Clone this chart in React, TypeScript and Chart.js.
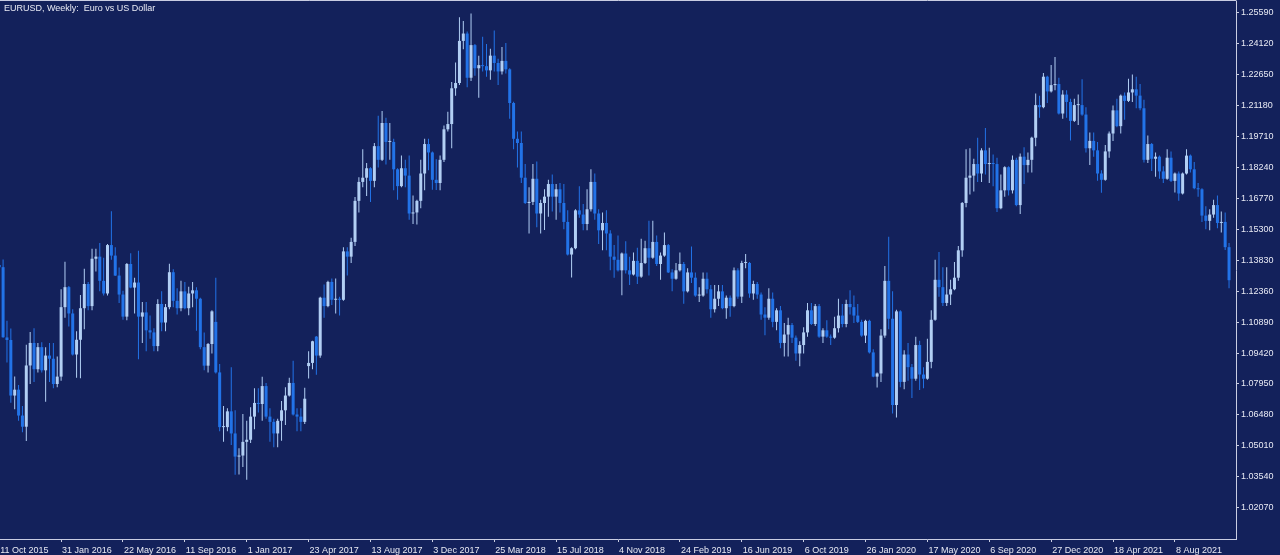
import React, { useEffect, useRef } from "react";
import { Chart, registerables } from "chart.js";

Chart.register(...registerables);

// Weekly EURUSD bars, week 0 = 11 Oct 2015 ... week 318 = 14 Nov 2021
const opens = [
  1.1360,1.1350,1.1016,1.1004,1.0740,1.0768,1.0645,1.0592,1.0883,1.0990,
  1.0865,1.0970,1.0860,1.0930,1.0915,1.0795,1.0830,1.1160,1.1255,1.1130,
  1.0935,1.1005,1.1155,1.1270,1.1165,1.1390,1.1400,1.1285,1.1225,1.1455,
  1.1405,1.1310,1.1220,1.1115,1.1365,1.1253,1.1277,1.1115,1.1135,1.1050,
  1.1040,1.0975,1.1175,1.1087,1.1160,1.1326,1.1190,1.1155,1.1235,1.1155,
  1.1225,1.1240,1.1200,1.0970,1.0882,1.0985,1.1090,1.0850,1.0590,1.0590,
  1.0665,1.0560,1.0450,1.0455,1.0520,1.0530,1.0640,1.0705,1.0700,1.0785,
  1.0640,1.0615,1.0560,1.0620,1.0670,1.0740,1.0800,1.0650,1.0640,1.0615,
  1.0880,1.0895,1.1020,1.0930,1.1205,1.1165,1.1280,1.1195,1.1200,1.1195,
  1.1425,1.1400,1.1470,1.1665,1.1755,1.1775,1.1820,1.1760,1.1925,1.1860,
  1.2035,1.1945,1.1945,1.1815,1.1735,1.1820,1.1785,1.1605,1.1610,1.1665,
  1.1795,1.1935,1.1895,1.1765,1.1750,1.1860,1.2005,1.2030,1.2200,1.2225,
  1.2425,1.2460,1.2250,1.2405,1.2295,1.2310,1.2305,1.2285,1.2355,1.2320,
  1.2280,1.2330,1.2290,1.2130,1.1960,1.1940,1.1775,1.1655,1.1660,1.1770,
  1.1605,1.1655,1.1685,1.1745,1.1685,1.1720,1.1655,1.1565,1.1410,1.1440,
  1.1620,1.1600,1.1555,1.1625,1.1755,1.1605,1.1525,1.1560,1.1510,1.1400,
  1.1385,1.1335,1.1415,1.1335,1.1315,1.1380,1.1305,1.1370,1.1440,1.1395,
  1.1470,1.1365,1.1405,1.1455,1.1325,1.1295,1.1335,1.1365,1.1235,1.1325,
  1.1300,1.1215,1.1215,1.1295,1.1245,1.1150,1.1200,1.1235,1.1155,1.1205,
  1.1165,1.1335,1.1210,1.1370,1.1370,1.1225,1.1270,1.1220,1.1125,1.1110,
  1.1200,1.1090,1.1145,1.0990,1.1030,1.1075,1.1015,1.0940,1.0980,1.1040,
  1.1145,1.1080,1.1165,1.1020,1.1050,1.1020,1.1015,1.1060,1.1120,1.1080,
  1.1175,1.1160,1.1120,1.1090,1.1025,1.1095,1.0945,1.0830,1.0845,1.1025,
  1.1285,1.1105,1.0695,1.1140,1.0805,1.0935,1.0875,1.0820,1.0980,1.0840,
  1.0820,1.0900,1.1100,1.1290,1.1255,1.1180,1.1220,1.1245,1.1300,1.1430,
  1.1655,1.1775,1.1785,1.1840,1.1795,1.1905,1.1840,1.1845,1.1840,1.1630,
  1.1715,1.1825,1.1715,1.1860,1.1645,1.1875,1.1835,1.1860,1.1965,1.2120,
  1.2110,1.2255,1.2185,1.2215,1.2220,1.2080,1.2170,1.2135,1.2045,1.2120,
  1.2120,1.2075,1.1915,1.1950,1.1905,1.1795,1.1765,1.1900,1.1985,1.2095,
  1.2020,1.2165,1.2140,1.2180,1.2195,1.2165,1.2105,1.1860,1.1935,1.1865,
  1.1875,1.1805,1.1770,1.1870,1.1760,1.1795,1.1700,1.1795,1.1880,1.1815,
  1.1725,1.1720,1.1595,1.1570,1.1600,1.1645,1.1560,1.1565,1.1445,
];

const highs = [
  1.1495,1.1387,1.1096,1.1059,1.0830,1.0790,1.0690,1.0981,1.1042,1.1060,
  1.0990,1.0993,1.0970,1.0990,1.0990,1.0925,1.1245,1.1376,1.1260,1.1150,
  1.1045,1.1218,1.1342,1.1280,1.1438,1.1438,1.1465,1.1395,1.1460,1.1616,
  1.1445,1.1349,1.1238,1.1370,1.1416,1.1300,1.1428,1.1185,1.1185,1.1120,
  1.1060,1.1198,1.1235,1.1175,1.1366,1.1340,1.1250,1.1285,1.1280,1.1257,
  1.1280,1.1255,1.1205,1.1040,1.0990,1.1145,1.1300,1.0890,1.0690,1.0680,
  1.0874,1.0670,1.0490,1.0652,1.0620,1.0685,1.0775,1.0775,1.0829,1.0800,
  1.0680,1.0630,1.0630,1.0714,1.0780,1.0825,1.0905,1.0680,1.0680,1.0777,
  1.0950,1.1000,1.1023,1.1210,1.1268,1.1285,1.1296,1.1296,1.1210,1.1445,
  1.1445,1.1490,1.1683,1.1777,1.1910,1.1845,1.1825,1.1940,1.2070,1.2092,
  1.2060,1.2035,1.1960,1.1820,1.1880,1.1860,1.1880,1.1690,1.1670,1.1860,
  1.1960,1.1960,1.1900,1.1863,1.1880,1.2023,1.2088,1.2230,1.2323,1.2537,
  1.2520,1.2470,1.2555,1.2410,1.2354,1.2445,1.2410,1.2388,1.2475,1.2340,
  1.2396,1.2415,1.2295,1.2136,1.1995,1.1995,1.1840,1.1730,1.1840,1.1852,
  1.1670,1.1720,1.1765,1.1790,1.1745,1.1750,1.1745,1.1620,1.1445,1.1625,
  1.1734,1.1650,1.1720,1.1815,1.1795,1.1625,1.1610,1.1620,1.1525,1.1455,
  1.1500,1.1420,1.1473,1.1400,1.1420,1.1442,1.1485,1.1475,1.1570,1.1570,
  1.1500,1.1420,1.1515,1.1460,1.1340,1.1370,1.1420,1.1375,1.1345,1.1448,
  1.1325,1.1255,1.1325,1.1325,1.1265,1.1265,1.1265,1.1265,1.1215,1.1215,
  1.1348,1.1345,1.1380,1.1412,1.1375,1.1285,1.1280,1.1230,1.1160,1.1250,
  1.1230,1.1155,1.1165,1.1085,1.1110,1.1085,1.1025,1.0998,1.1065,1.1180,
  1.1180,1.1175,1.1175,1.1060,1.1098,1.1030,1.1115,1.1200,1.1175,1.1195,
  1.1240,1.1215,1.1175,1.1100,1.1100,1.1100,1.0960,1.0850,1.1055,1.1355,
  1.1495,1.1235,1.1148,1.1145,1.0955,1.0990,1.0890,1.1020,1.1000,1.0875,
  1.1010,1.1145,1.1385,1.1422,1.1350,1.1350,1.1290,1.1375,1.1450,1.1660,
  1.1910,1.1915,1.1865,1.1965,1.1915,1.2011,1.1917,1.1885,1.1870,1.1790,
  1.1830,1.1830,1.1880,1.1870,1.1890,1.1920,1.1895,1.1970,1.2175,1.2165,
  1.2273,1.2260,1.2310,1.2349,1.2250,1.2190,1.2190,1.2150,1.2150,1.2170,
  1.2243,1.2110,1.1990,1.1990,1.1945,1.1810,1.1930,1.1995,1.2118,1.2150,
  1.2170,1.2180,1.2245,1.2265,1.2255,1.2220,1.2145,1.1975,1.1940,1.1895,
  1.1880,1.1830,1.1910,1.1900,1.1800,1.1805,1.1800,1.1910,1.1885,1.1850,
  1.1750,1.1725,1.1640,1.1625,1.1670,1.1690,1.1615,1.1610,1.1465,
];

const lows = [
  1.1330,1.1015,1.0897,1.0706,1.0675,1.0620,1.0566,1.0524,1.0795,1.0805,
  1.0850,1.0850,1.0710,1.0805,1.0775,1.0780,1.0810,1.1110,1.1068,1.0930,
  1.0825,1.0822,1.1055,1.1145,1.1145,1.1330,1.1235,1.1215,1.1215,1.1385,
  1.1308,1.1180,1.1100,1.1098,1.1250,1.1130,1.0912,1.0990,1.0950,1.1010,
  1.0950,1.0950,1.1045,1.1045,1.1150,1.1160,1.1125,1.1140,1.1150,1.1122,
  1.1160,1.1048,1.0960,1.0860,1.0850,1.0940,1.0845,1.0570,1.0520,1.0570,
  1.0505,1.0364,1.0365,1.0400,1.0340,1.0515,1.0580,1.0660,1.0620,1.0630,
  1.0520,1.0495,1.0495,1.0525,1.0600,1.0735,1.0645,1.0570,1.0570,1.0605,
  1.0821,1.0865,1.0839,1.0920,1.1110,1.1160,1.1170,1.1130,1.1120,1.1190,
  1.1310,1.1370,1.1450,1.1610,1.1730,1.1688,1.1660,1.1730,1.1823,1.1855,
  1.1838,1.1860,1.1715,1.1670,1.1730,1.1730,1.1575,1.1555,1.1553,1.1630,
  1.1715,1.1810,1.1718,1.1717,1.1716,1.1850,1.1995,1.1915,1.2165,1.2215,
  1.2385,1.2205,1.2235,1.2260,1.2155,1.2280,1.2255,1.2240,1.2280,1.2215,
  1.2265,1.2270,1.2055,1.1910,1.1823,1.1750,1.1650,1.1510,1.1645,1.1540,
  1.1510,1.1527,1.1590,1.1615,1.1575,1.1610,1.1530,1.1405,1.1301,1.1435,
  1.1585,1.1525,1.1525,1.1615,1.1575,1.1460,1.1430,1.1430,1.1335,1.1300,
  1.1330,1.1216,1.1320,1.1265,1.1310,1.1270,1.1300,1.1365,1.1310,1.1390,
  1.1355,1.1290,1.1400,1.1322,1.1235,1.1290,1.1330,1.1176,1.1230,1.1275,
  1.1210,1.1185,1.1210,1.1225,1.1110,1.1135,1.1165,1.1150,1.1105,1.1115,
  1.1160,1.1200,1.1180,1.1345,1.1205,1.1195,1.1200,1.1100,1.1027,1.1100,
  1.1065,1.1050,1.0965,1.0925,1.0925,1.0990,1.0905,1.0879,1.0940,1.1020,
  1.1075,1.1070,1.1015,1.0990,1.1015,1.0980,1.1010,1.1040,1.1065,1.1065,
  1.1125,1.1085,1.1085,1.1020,1.0990,1.0940,1.0827,1.0778,1.0805,1.1015,
  1.1055,1.0655,1.0636,1.0780,1.0770,1.0810,1.0728,1.0810,1.0766,1.0775,
  1.0815,1.0870,1.1095,1.1210,1.1165,1.1165,1.1170,1.1240,1.1285,1.1400,
  1.1635,1.1695,1.1710,1.1755,1.1755,1.1790,1.1750,1.1735,1.1612,1.1625,
  1.1685,1.1690,1.1700,1.1640,1.1603,1.1745,1.1800,1.1800,1.1925,1.2060,
  1.2105,1.2130,1.2180,1.2190,1.2075,1.2055,1.2060,1.1952,1.2040,1.2025,
  1.2070,1.1895,1.1835,1.1875,1.1760,1.1704,1.1760,1.1870,1.1950,1.2015,
  1.1985,1.2050,1.2135,1.2135,1.2105,1.2095,1.1847,1.1845,1.1807,1.1780,
  1.1770,1.1750,1.1765,1.1755,1.1705,1.1665,1.1695,1.1790,1.1800,1.1720,
  1.1685,1.1565,1.1530,1.1525,1.1585,1.1535,1.1515,1.1432,1.1250,
];

const closes = [
  1.1350,1.1017,1.1004,1.0740,1.0768,1.0645,1.0592,1.0883,1.0990,1.0865,
  1.0970,1.0860,1.0930,1.0915,1.0795,1.0830,1.1160,1.1255,1.1130,1.0935,
  1.1005,1.1155,1.1270,1.1165,1.1390,1.1400,1.1285,1.1225,1.1455,1.1405,
  1.1310,1.1220,1.1115,1.1365,1.1253,1.1277,1.1115,1.1135,1.1050,1.1040,
  1.0975,1.1175,1.1087,1.1160,1.1326,1.1190,1.1155,1.1235,1.1155,1.1225,
  1.1240,1.1200,1.0970,1.0882,1.0985,1.1140,1.0850,1.0590,1.0590,1.0665,
  1.0560,1.0450,1.0455,1.0520,1.0530,1.0640,1.0705,1.0700,1.0785,1.0640,
  1.0615,1.0560,1.0620,1.0670,1.0740,1.0800,1.0650,1.0640,1.0615,1.0725,
  1.0895,1.0998,1.0930,1.1205,1.1165,1.1280,1.1195,1.1200,1.1195,1.1425,
  1.1400,1.1470,1.1665,1.1755,1.1775,1.1820,1.1760,1.1925,1.1860,1.2035,
  1.1945,1.1945,1.1815,1.1735,1.1820,1.1785,1.1605,1.1610,1.1665,1.1795,
  1.1935,1.1895,1.1765,1.1750,1.1860,1.2005,1.2030,1.2200,1.2225,1.2425,
  1.2460,1.2250,1.2405,1.2295,1.2310,1.2305,1.2285,1.2355,1.2320,1.2280,
  1.2330,1.2290,1.2130,1.1960,1.1940,1.1775,1.1655,1.1660,1.1770,1.1605,
  1.1655,1.1685,1.1745,1.1685,1.1720,1.1655,1.1565,1.1410,1.1440,1.1620,
  1.1600,1.1555,1.1625,1.1755,1.1605,1.1525,1.1560,1.1510,1.1400,1.1385,
  1.1335,1.1415,1.1335,1.1315,1.1380,1.1305,1.1370,1.1440,1.1395,1.1470,
  1.1365,1.1405,1.1455,1.1325,1.1295,1.1335,1.1365,1.1235,1.1325,1.1300,
  1.1215,1.1215,1.1295,1.1245,1.1150,1.1200,1.1235,1.1155,1.1205,1.1165,
  1.1335,1.1210,1.1370,1.1370,1.1225,1.1270,1.1220,1.1125,1.1110,1.1200,
  1.1090,1.1145,1.0990,1.1030,1.1075,1.1015,1.0940,1.0980,1.1040,1.1145,
  1.1080,1.1165,1.1020,1.1050,1.1020,1.1015,1.1060,1.1120,1.1080,1.1175,
  1.1160,1.1120,1.1090,1.1025,1.1095,1.0945,1.0830,1.0845,1.1025,1.1285,
  1.1105,1.0695,1.1140,1.0805,1.0935,1.0875,1.0820,1.0980,1.0840,1.0820,
  1.0900,1.1100,1.1290,1.1255,1.1180,1.1220,1.1245,1.1300,1.1430,1.1655,
  1.1775,1.1785,1.1840,1.1795,1.1905,1.1840,1.1845,1.1840,1.1630,1.1715,
  1.1825,1.1715,1.1860,1.1645,1.1875,1.1835,1.1860,1.1965,1.2120,1.2110,
  1.2255,1.2185,1.2215,1.2220,1.2080,1.2170,1.2135,1.2045,1.2120,1.2120,
  1.2075,1.1915,1.1950,1.1905,1.1795,1.1765,1.1900,1.1985,1.2095,1.2020,
  1.2165,1.2140,1.2180,1.2195,1.2165,1.2105,1.1860,1.1935,1.1865,1.1875,
  1.1805,1.1770,1.1870,1.1760,1.1795,1.1700,1.1795,1.1880,1.1815,1.1725,
  1.1720,1.1595,1.1570,1.1600,1.1645,1.1560,1.1565,1.1445,1.1288,
];

// Time axis labels and the week index where each one sits
const xTickWeeks = [0, 16, 32, 48, 64, 80, 96, 112, 128, 144, 160, 176, 192, 208, 224, 240, 256, 272, 288, 304];
const xTickLabels = [
  "11 Oct 2015", "31 Jan 2016", "22 May 2016", "11 Sep 2016", "1 Jan 2017",
  "23 Apr 2017", "13 Aug 2017", "3 Dec 2017", "25 Mar 2018", "15 Jul 2018",
  "4 Nov 2018", "24 Feb 2019", "16 Jun 2019", "6 Oct 2019", "26 Jan 2020",
  "17 May 2020", "6 Sep 2020", "27 Dec 2020", "18 Apr 2021", "8 Aug 2021",
];

// Price axis labels
const yTickLabels = [
  "1.02070", "1.03540", "1.05010", "1.06480", "1.07950", "1.09420",
  "1.10890", "1.12360", "1.13830", "1.15300", "1.16770", "1.18240",
  "1.19710", "1.21180", "1.22650", "1.24120", "1.25590",
];

const TITLE = "EURUSD, Weekly:  Euro vs US Dollar";

const BG = "#13215b";
const FG = "#e8eaf4";
const AXIS = "#c9cde2";
const BULL = "#b2cff4";
const BEAR = "#2273e8";
const FONT = "'Liberation Sans', Arial, sans-serif";

export default function App() {
  const ref = useRef<HTMLCanvasElement | null>(null);

  useEffect(() => {
    const canvas = ref.current;
    if (!canvas) return;

    const idx = closes.map((_, i) => i);
    const colors = idx.map((i) => (closes[i] >= opens[i] ? BULL : BEAR));
    const bodies = idx.map((i) => ({ x: i, y: [opens[i], closes[i]] }));
    const wicks = idx.map((i) => ({ x: i, y: [lows[i], highs[i]] }));

    const decor = {
      id: "decor",
      beforeDraw(chart: any) {
        const ctx = chart.ctx;
        ctx.save();
        ctx.fillStyle = BG;
        ctx.fillRect(0, 0, chart.width, chart.height);
        ctx.restore();
      },
      afterDraw(chart: any) {
        const ctx = chart.ctx;
        const a = chart.chartArea;
        ctx.save();
        ctx.strokeStyle = AXIS;
        ctx.lineWidth = 1;
        ctx.beginPath();
        ctx.moveTo(0, 0.5);
        ctx.lineTo(a.right + 0.5, 0.5);
        ctx.stroke();
        ctx.fillStyle = FG;
        ctx.font = `9px ${FONT}`;
        ctx.textBaseline = "middle";
        ctx.textAlign = "left";
        ctx.fillText(TITLE, 4, 8.5);
        ctx.restore();
      },
    };

    const chart = new Chart(canvas, {
      type: "bar",
      data: {
        datasets: [
          {
            data: bodies as any,
            backgroundColor: colors,
            barThickness: 3,
            minBarLength: 1,
            grouped: false,
            borderWidth: 0,
            inflateAmount: 0,
          } as any,
          {
            data: wicks as any,
            backgroundColor: colors,
            barThickness: 1,
            grouped: false,
            borderWidth: 0,
            inflateAmount: 0,
          } as any,
        ],
      },
      options: {
        animation: false,
        responsive: false,
        devicePixelRatio: 1,
        layout: { padding: { top: 1, left: 0, right: 0, bottom: 0 } },
        plugins: {
          legend: { display: false },
          tooltip: { enabled: false },
          title: { display: false },
        },
        scales: {
          x: {
            type: "linear",
            min: 0.2,
            max: 319.8,
            offset: false,
            grid: {
              display: true,
              drawOnChartArea: false,
              drawTicks: true,
              tickLength: 3,
              color: AXIS,
              tickColor: AXIS,
              offset: false,
            },
            border: { display: true, color: AXIS },
            ticks: {
              autoSkip: false,
              maxRotation: 0,
              minRotation: 0,
              align: "start",
              labelOffset: 1,
              padding: 3,
              color: FG,
              font: { family: FONT, size: 9 },
              callback: (v: any) => {
                const k = xTickWeeks.indexOf(Number(v));
                return k >= 0 ? xTickLabels[k] : "";
              },
            },
            afterBuildTicks: (s: any) => {
              s.ticks = xTickWeeks.map((v) => ({ value: v }));
            },
            afterFit: (s: any) => {
              s.height = 16;
              s.paddingLeft = 0;
              s.paddingRight = 0;
            },
          } as any,
          y: {
            type: "linear",
            position: "right",
            min: 1.00585,
            max: 1.26146,
            beginAtZero: false,
            grid: {
              display: true,
              drawOnChartArea: false,
              drawTicks: true,
              tickLength: 3,
              color: AXIS,
              tickColor: AXIS,
            },
            border: { display: true, color: AXIS },
            ticks: {
              padding: 2,
              color: FG,
              font: { family: FONT, size: 9 },
              callback: (v: any) => Number(v).toFixed(5),
            },
            afterBuildTicks: (s: any) => {
              s.ticks = yTickLabels.map((t) => ({ value: parseFloat(t) }));
            },
            afterFit: (s: any) => {
              s.width = 44;
              s.paddingTop = 0;
              s.paddingBottom = 0;
            },
          } as any,
        },
      },
      plugins: [decor],
    });

    return () => chart.destroy();
  }, []);

  return (
    <div
      style={{
        position: "absolute",
        left: 0,
        top: 0,
        width: 1280,
        height: 555,
        background: BG,
      }}
    >
      <canvas ref={ref} width={1280} height={555} style={{ display: "block", width: 1280, height: 555 }} />
    </div>
  );
}
